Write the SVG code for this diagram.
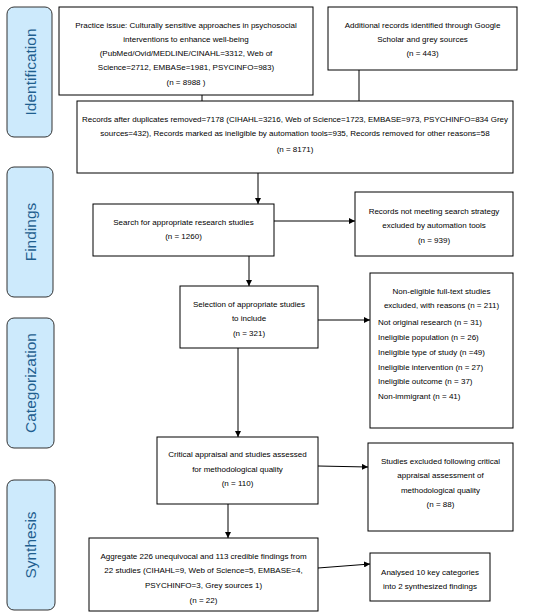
<svg xmlns="http://www.w3.org/2000/svg" width="550" height="616" viewBox="0 0 550 616">
<defs>
<marker id="ah" viewBox="0 0 10 10" refX="10" refY="5" markerWidth="6" markerHeight="6" markerUnits="userSpaceOnUse" orient="auto">
<path d="M0,0 L10,5 L0,10 z" fill="#000"/>
</marker>
</defs>
<style>
.tab{fill:#cdeafc;stroke:#333;stroke-width:1}
.tabt{font-family:"Liberation Sans",Arial,sans-serif;font-size:15.5px;fill:#1f5f8f;text-anchor:middle}
.box{fill:#fff;stroke:#000;stroke-width:1}
.t{font-family:"Liberation Sans",Arial,sans-serif;font-size:8px;fill:#000;text-anchor:middle}
.tl{font-family:"Liberation Sans",Arial,sans-serif;font-size:8px;fill:#000}
.c{stroke:#000;stroke-width:1;fill:none}
.ca{stroke:#000;stroke-width:1;fill:none;marker-end:url(#ah)}
</style>
<rect width="550" height="616" fill="#fff"/>
<g id="tab-identification"><rect class="tab" x="7" y="7" width="45" height="130" rx="7"/><text class="tabt" transform="translate(36,72) rotate(-90)">Identification</text></g>
<g id="tab-findings"><rect class="tab" x="7" y="167" width="46" height="130" rx="7"/><text class="tabt" transform="translate(36,232) rotate(-90)">Findings</text></g>
<g id="tab-categorization"><rect class="tab" x="7" y="318" width="47" height="130" rx="7"/><text class="tabt" transform="translate(36,383) rotate(-90)">Categorization</text></g>
<g id="tab-synthesis"><rect class="tab" x="7" y="480" width="48" height="130" rx="7"/><text class="tabt" transform="translate(36,545) rotate(-90)">Synthesis</text></g>

<g id="connectors">
<line class="c" x1="202" y1="95" x2="202" y2="101"/>
<line class="c" x1="359" y1="70" x2="359" y2="101"/>
<line class="ca" x1="258" y1="173" x2="258" y2="204"/>
<line class="ca" x1="274" y1="221" x2="355" y2="221"/>
<line class="ca" x1="249" y1="256" x2="249" y2="286"/>
<line class="ca" x1="318" y1="320" x2="370" y2="320"/>
<line class="ca" x1="238" y1="348" x2="238" y2="437"/>
<line class="ca" x1="318" y1="466" x2="368" y2="467"/>
<line class="ca" x1="228" y1="504" x2="228" y2="538"/>
<line class="ca" x1="318" y1="568" x2="370" y2="564"/>
</g>

<g id="practice-issue"><rect class="box" x="59" y="7" width="254" height="88"/>
<text class="t" x="186" y="28">Practice issue: Culturally sensitive approaches in psychosocial</text>
<text class="t" x="186" y="42">interventions to enhance well-being</text>
<text class="t" x="186" y="56">(PubMed/Ovid/MEDLINE/CINAHL=3312, Web of</text>
<text class="t" x="186" y="70">Science=2712, EMBASe=1981, PSYCINFO=983)</text>
<text class="t" x="186" y="85">(n =  8988 )</text></g>

<g id="additional-records"><rect class="box" x="328" y="7" width="189" height="63"/>
<text class="t" x="422.5" y="28">Additional records identified through Google</text>
<text class="t" x="422.5" y="42">Scholar and grey sources</text>
<text class="t" x="422.5" y="56">(n = 443)</text></g>

<g id="records-after-duplicates"><rect class="box" x="77" y="101" width="436" height="72"/>
<text class="t" x="295" y="122">Records after duplicates removed=7178 (CIHAHL=3216, Web of Science=1723, EMBASE=973, PSYCHINFO=834 Grey</text>
<text class="t" x="295" y="136">sources=432), Records marked as ineligible by automation tools=935, Records removed for other reasons=58</text>
<text class="t" x="295" y="152">(n = 8171)</text></g>

<g id="search"><rect class="box" x="93" y="204" width="181" height="52"/>
<text class="t" x="183.5" y="225">Search for appropriate research studies</text>
<text class="t" x="183.5" y="239">(n = 1260)</text></g>

<g id="not-meeting"><rect class="box" x="355" y="192" width="158" height="64"/>
<text class="t" x="434" y="214">Records not meeting search strategy</text>
<text class="t" x="434" y="228">excluded by automation tools</text>
<text class="t" x="434" y="243">(n = 939)</text></g>

<g id="selection"><rect class="box" x="180" y="286" width="138" height="62"/>
<text class="t" x="249" y="307">Selection of appropriate studies</text>
<text class="t" x="249" y="321">to include</text>
<text class="t" x="249" y="336">(n = 321)</text></g>

<g id="non-eligible"><rect class="box" x="370" y="273" width="143" height="155"/>
<text class="t" x="441.5" y="294">Non-eligible full-text studies</text>
<text class="t" x="441.5" y="308">excluded, with reasons (n = 211)</text>
<text class="tl" x="378" y="325">Not original research (n = 31)</text>
<text class="tl" x="378" y="340">Ineligible population (n = 26)</text>
<text class="tl" x="378" y="355">Ineligible type of study (n =49)</text>
<text class="tl" x="378" y="370">Ineligible intervention (n = 27)</text>
<text class="tl" x="378" y="384">Ineligible outcome (n = 37)</text>
<text class="tl" x="378" y="399">Non-immigrant (n = 41)</text></g>

<g id="critical-appraisal"><rect class="box" x="157" y="437" width="161" height="67"/>
<text class="t" x="237.5" y="457">Critical appraisal and studies assessed</text>
<text class="t" x="237.5" y="472">for methodological quality</text>
<text class="t" x="237.5" y="486">(n = 110)</text></g>

<g id="studies-excluded"><rect class="box" x="368" y="443" width="145" height="88"/>
<text class="t" x="440.5" y="464">Studies excluded following critical</text>
<text class="t" x="440.5" y="478">appraisal assessment of</text>
<text class="t" x="440.5" y="493">methodological quality</text>
<text class="t" x="440.5" y="507">(n =  88)</text></g>

<g id="aggregate"><rect class="box" x="89" y="538" width="229" height="73"/>
<text class="t" x="203.5" y="559">Aggregate 226 unequivocal and 113 credible findings from</text>
<text class="t" x="203.5" y="573">22 studies (CIHAHL=9, Web of Science=5, EMBASE=4,</text>
<text class="t" x="203.5" y="588">PSYCHINFO=3, Grey sources 1)</text>
<text class="t" x="203.5" y="603">(n = 22)</text></g>

<g id="analysed"><rect class="box" x="370" y="553" width="120" height="48"/>
<text class="t" x="430" y="575">Analysed 10 key categories</text>
<text class="t" x="430" y="589">into 2 synthesized findings</text></g>
</svg>
